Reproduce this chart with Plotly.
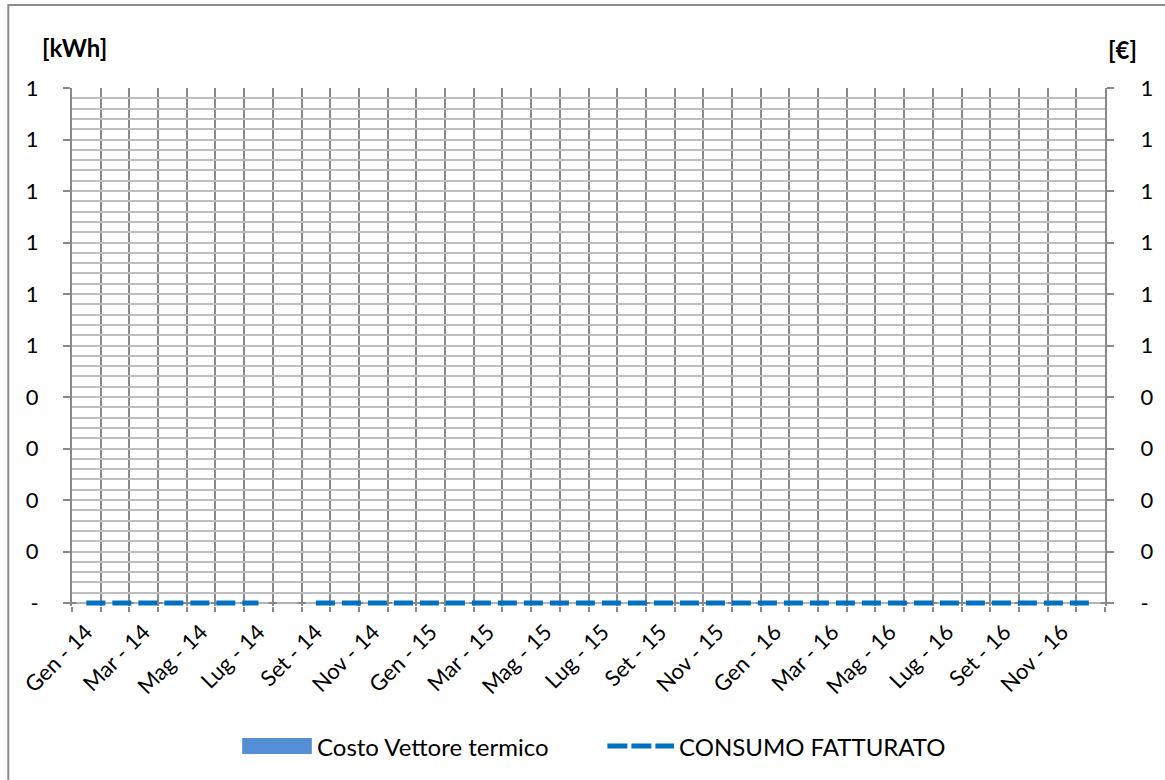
import plotly.graph_objects as go

month_names = ["Gen", "Feb", "Mar", "Apr", "Mag", "Giu", "Lug", "Ago", "Set", "Ott", "Nov", "Dic"]
years = ["14", "15", "16"]
months = [f"{m} - {yy}" for yy in years for m in month_names]

# Series values
consumo_fatturato = [0, 0, 0, 0, 0, 0, 0, None, 0, 0, 0, 0,
                     0, 0, 0, 0, 0, 0, 0, 0, 0, 0, 0, 0,
                     0, 0, 0, 0, 0, 0, 0, 0, 0, 0, 0, 0]
costo_vettore = [0] * 36

y_tickvals = [0, 0.1, 0.2, 0.3, 0.4, 0.5, 0.6, 0.7, 0.8, 0.9, 1.0]
y_ticktext = ["-", "0", "0", "0", "0", "1", "1", "1", "1", "1", "1"]

series_names = ["Costo Vettore termico", "CONSUMO FATTURATO"]

x_idx = list(range(len(months)))
label_idx = x_idx[::2]
label_txt = months[::2]

FONT = "Lato, Calibri, Carlito, sans-serif"
W, H = 1165, 780
L, R, T, B = 72, 55, 88, 174
PW, PH = W - L - R, H - T - B
Y_PAD = 3 / 515  # small room below zero so the thick dashed line is not clipped


def px_x(p):
    return (p - L) / PW


def px_y(p):
    return (H - B - p) / PH


BAR_C = "#558ED5"
LINE_C = "#0070C0"
grid_h = "#BEBEBE"
grid_v = "#898989"

fig = go.Figure()
fig.add_trace(go.Bar(
    x=x_idx, y=costo_vettore, name=series_names[0],
    marker_color=BAR_C, yaxis="y", showlegend=False,
))
fig.add_trace(go.Scatter(
    x=x_idx, y=consumo_fatturato, name=series_names[1], yaxis="y2",
    mode="lines", line=dict(color=LINE_C, width=5, dash="19px,7px"),
    connectgaps=False, showlegend=False,
))

fig.update_layout(
    width=W, height=H,
    margin=dict(l=L, r=R, t=T, b=B),
    paper_bgcolor="white", plot_bgcolor="white",
    font=dict(family=FONT, size=23, color="#000000"),
    showlegend=False,
    bargap=0.3,
    xaxis=dict(
        range=[-0.5, len(months) - 0.5],
        tickmode="array", tickvals=label_idx, ticktext=label_txt,
        tickangle=-45, ticks="", showgrid=False, zeroline=False,
        showline=False, layer="below traces",
        tickfont=dict(size=22), ticklabelstandoff=8,
        minor=dict(tickmode="array", tickvals=[i - 0.5 for i in range(len(months) + 1)],
                   ticks="outside", ticklen=5, tickwidth=2, tickcolor=grid_v,
                   showgrid=True, gridcolor=grid_v, gridwidth=2),
    ),
    yaxis=dict(
        range=[-Y_PAD, 1.0], tickmode="array", tickvals=y_tickvals, ticktext=y_ticktext,
        ticks="outside", ticklen=7, tickwidth=2, tickcolor=grid_v,
        showgrid=True, gridcolor=grid_h, gridwidth=2,
        zeroline=True, zerolinecolor=grid_v, zerolinewidth=2,
        showline=True, linecolor=grid_v, linewidth=2, layer="below traces",
        ticklabelstandoff=20, tickfont=dict(size=22),
        minor=dict(dtick=0.02, tick0=0.02, showgrid=True, gridcolor=grid_h, gridwidth=2, ticks=""),
    ),
    yaxis2=dict(
        range=[-Y_PAD, 1.0], tickmode="array", tickvals=y_tickvals, ticktext=y_ticktext,
        overlaying="y", side="right",
        ticks="outside", ticklen=7, tickwidth=2, tickcolor=grid_v,
        showgrid=False, zeroline=False,
        showline=True, linecolor=grid_v, linewidth=2, layer="below traces",
        ticklabelstandoff=22, tickfont=dict(size=22),
    ),
    annotations=[
        dict(text="<b>[kWh]</b>", xref="paper", yref="paper", x=px_x(40), y=px_y(48),
             xanchor="left", yanchor="middle", showarrow=False, font=dict(size=24)),
        dict(text="<b>[€]</b>", xref="paper", yref="paper", x=px_x(1111), y=px_y(49),
             xanchor="left", yanchor="middle", showarrow=False, font=dict(size=24)),
        # legend texts
        dict(text=series_names[0], xref="paper", yref="paper", x=px_x(316), y=px_y(746),
             xanchor="left", yanchor="middle", showarrow=False, font=dict(size=24)),
        dict(text=series_names[1], xref="paper", yref="paper", x=px_x(680), y=px_y(746),
             xanchor="left", yanchor="middle", showarrow=False, font=dict(size=24)),
    ],
    shapes=[
        # chart border
        dict(type="rect", xref="paper", yref="paper",
             x0=px_x(8), x1=px_x(1180), y0=px_y(800), y1=px_y(5),
             line=dict(color="#8C8C8C", width=2), fillcolor="rgba(0,0,0,0)", layer="below"),
        # legend bar swatch
        dict(type="rect", xref="paper", yref="paper",
             x0=px_x(243), x1=px_x(313), y0=px_y(754), y1=px_y(738),
             line=dict(width=0), fillcolor=BAR_C),
        # legend line swatch
        dict(type="line", xref="paper", yref="paper",
             x0=px_x(610), x1=px_x(677), y0=px_y(746), y1=px_y(746),
             line=dict(color=LINE_C, width=5, dash="20px,4px")),
    ],
)

fig.write_html("out.html")
